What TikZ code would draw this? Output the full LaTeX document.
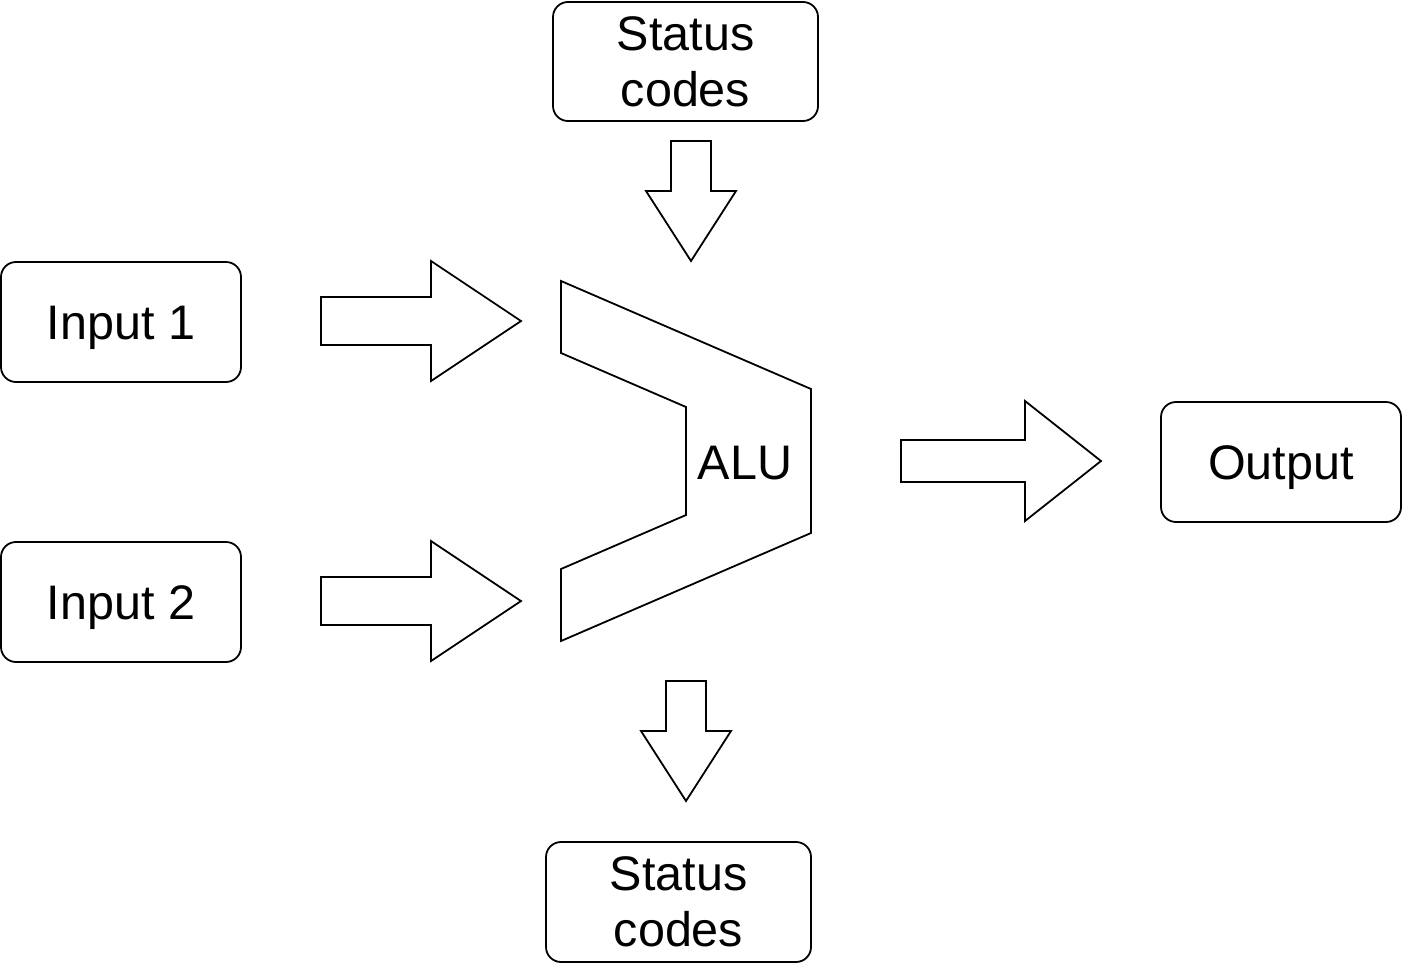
\documentclass[tikz,border=0pt]{standalone}
\usepackage{fontspec}
\setmainfont{Liberation Sans}
\begin{document}
\begin{tikzpicture}[x=1pt,y=-1pt,
  txt/.style={font=\fontsize{48.5}{56}\selectfont},
  box/.style={draw,line width=1.8pt,rounded corners=15pt,align=center,inner sep=0pt,txt},
  oneline/.style={text height=35pt,text depth=0pt,yshift=-1pt},
  blockarrow/.style={draw,line width=1.8pt,line join=miter}]
\useasboundingbox (0,0) rectangle (1402,964);
% boxes
\node[box,minimum width=265pt,minimum height=119pt] (st1) at (685.5,61.5) {Status\\codes};
\node[box,oneline,minimum width=240pt,minimum height=120pt] (in1) at (121,321) {Input 1};
\node[box,oneline,minimum width=240pt,minimum height=120pt] (in2) at (121,601) {Input 2};
\node[box,oneline,minimum width=240pt,minimum height=120pt] (out) at (1281,461) {Output};
\node[box,minimum width=265pt,minimum height=120pt] (st2) at (678.5,902) {Status\\codes};
% ALU
\draw[blockarrow] (561,281) -- (811,389) -- (811,533) -- (561,641) -- (561,569)
  -- (686,515) -- (686,407) -- (561,353) -- cycle;
\node[txt,inner sep=0pt,oneline] (alu) at (745,461) {ALU};
% block arrows
\draw[blockarrow] (671,141) -- (711,141) -- (711,191) -- (736,191) -- (691,261)
  -- (646,191) -- (671,191) -- cycle;
\draw[blockarrow] (321,297) -- (431,297) -- (431,261) -- (521,321) -- (431,381)
  -- (431,345) -- (321,345) -- cycle;
\draw[blockarrow] (321,577) -- (431,577) -- (431,541) -- (521,601) -- (431,661)
  -- (431,625) -- (321,625) -- cycle;
\draw[blockarrow] (901,440) -- (1025,440) -- (1025,401) -- (1101,461) -- (1025,521)
  -- (1025,482) -- (901,482) -- cycle;
\draw[blockarrow] (666,681) -- (706,681) -- (706,731) -- (731,731) -- (686,801)
  -- (641,731) -- (666,731) -- cycle;
\end{tikzpicture}
\end{document}
